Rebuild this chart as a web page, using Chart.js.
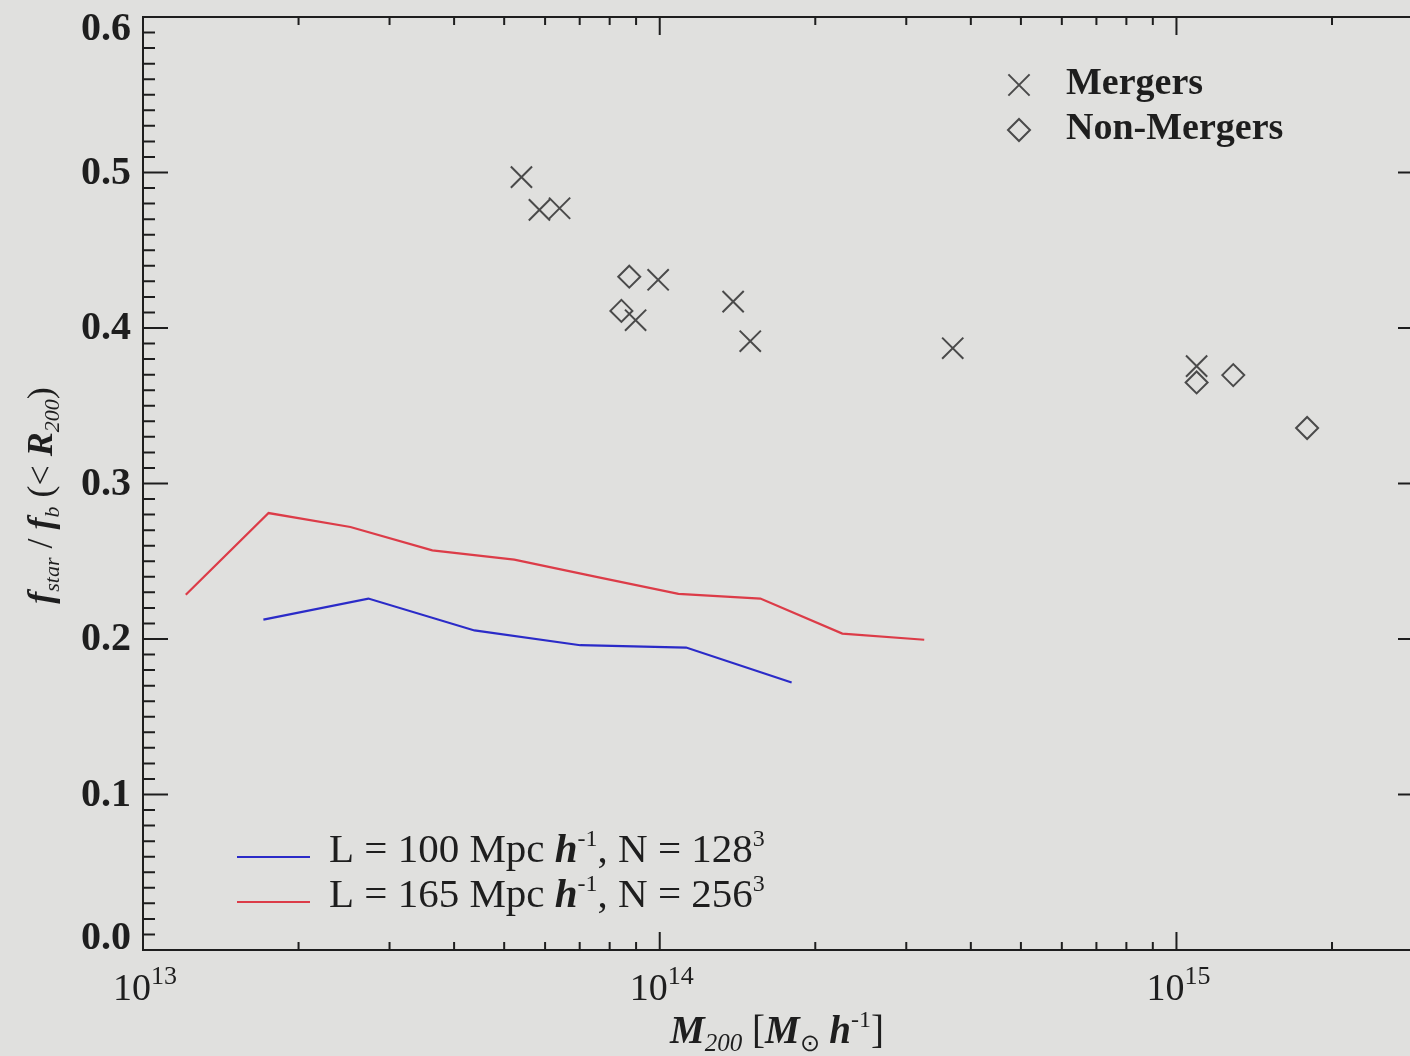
<!DOCTYPE html>
<html>
<head>
<meta charset="utf-8">
<title>Stellar fraction vs halo mass</title>
<script src="https://cdn.jsdelivr.net/npm/chart.js@4.4.1/dist/chart.umd.min.js"></script>
<style>
  html, body { margin: 0; padding: 0; background: #e0e0de; overflow: hidden; }
  #wrap { width: 1440px; height: 1056px; }
</style>
</head>
<body>
<div id="wrap"><canvas id="c" width="1440" height="1056"></canvas></div>
<script>
// binned mean f_star/f_b for the two simulation boxes
const massL100 = [1.71e13, 2.73e13, 4.38e13, 7.02e13, 1.125e14, 1.80e14];
const fracL100 = [0.2125, 0.226, 0.2055, 0.196, 0.1945, 0.172];
const massL165 = [1.21e13, 1.75e13, 2.52e13, 3.63e13, 5.23e13, 7.54e13, 1.087e14, 1.566e14, 2.256e14, 3.25e14];
const fracL165 = [0.2285, 0.281, 0.272, 0.257, 0.251, 0.240, 0.229, 0.226, 0.2035, 0.1995];

// individual clusters
const mergerMass = [5.40e13, 5.85e13, 6.40e13, 9.93e13, 8.98e13, 1.387e14, 1.497e14, 3.69e14, 1.094e15];
const mergerFrac = [0.497, 0.476, 0.477, 0.431, 0.405, 0.417, 0.3915, 0.387, 0.3755];
const nonMergerMass = [8.73e13, 8.43e13, 1.094e15, 1.288e15, 1.79e15];
const nonMergerFrac = [0.433, 0.411, 0.365, 0.3697, 0.3357];

// axes
const xMin = 1e13, xMax = 3e15;
const xTickValues = [1e13, 1e14, 1e15];
const xTickExps = ["13", "14", "15"];
const yTickValues = [0, 0.1, 0.2, 0.3, 0.4, 0.5, 0.6];
const yTickLabels = ["0.0", "0.1", "0.2", "0.3", "0.4", "0.5", "0.6"];

const SERIF = '"Liberation Serif", "Times New Roman", serif';
const INK = "#1e1e1e";
const MARK = "#4a4a4a";
const BLUE = "#2b2bc8";
const RED = "#dc3c48";

function pts(xs, ys) {
    return xs.map((x, i) => ({ x: x, y: ys[i] }));
}

// draws a run of text pieces (for sub/superscripts); align = left|center|right
function drawRuns(ctx, runs, x, y, align) {
    let w = 0;
    runs.forEach(r => { ctx.font = r.f; w += ctx.measureText(r.t).width; });
    let cx = align === "center" ? x - w / 2 : align === "right" ? x - w : x;
    ctx.textAlign = "left";
    ctx.textBaseline = "alphabetic";
    runs.forEach(r => {
        ctx.font = r.f;
        ctx.fillText(r.t, cx, y + (r.dy || 0));
        cx += ctx.measureText(r.t).width;
    });
}

const frame = {
    id: "frame",
    afterDraw(chart) {
        const ctx = chart.ctx;
        const a = chart.chartArea;
        const xs = chart.scales.x, ys = chart.scales.y;
        ctx.save();
        ctx.strokeStyle = INK;
        ctx.fillStyle = INK;
        ctx.lineWidth = 2;
        ctx.strokeRect(a.left, a.top, a.right - a.left, a.bottom - a.top);

        ctx.beginPath();
        // x ticks, bottom and top, pointing inward
        for (let d = 13; d <= 15; d++) {
            for (let m = 1; m <= 9; m++) {
                const v = m * Math.pow(10, d);
                if (v < xMin || v > xMax) continue;
                const px = xs.getPixelForValue(v);
                const len = m === 1 ? 18 : 8;
                ctx.moveTo(px, a.bottom); ctx.lineTo(px, a.bottom - len);
                ctx.moveTo(px, a.top); ctx.lineTo(px, a.top + len);
            }
        }
        // y ticks, left and right
        for (let k = 0; k <= 60; k++) {
            const py = ys.getPixelForValue(k / 100);
            const len = k % 10 === 0 ? 25 : 12;
            ctx.moveTo(a.left, py); ctx.lineTo(a.left + len, py);
            ctx.moveTo(a.right, py); ctx.lineTo(a.right - len, py);
        }
        ctx.stroke();

        // y tick labels, kept inside the axis span at the ends
        ctx.font = "bold 40px " + SERIF;
        ctx.textAlign = "right";
        ctx.textBaseline = "middle";
        yTickValues.forEach((v, i) => {
            let py = ys.getPixelForValue(v);
            py = Math.min(Math.max(py, a.top + 12), a.bottom - 12);
            ctx.fillText(yTickLabels[i], a.left - 12, py + 1);
        });

        // x tick labels 10^n
        xTickValues.forEach((v, i) => {
            const px = xs.getPixelForValue(v);
            drawRuns(ctx, [
                { t: "10", f: "38px " + SERIF },
                { t: xTickExps[i], f: "26px " + SERIF, dy: -16 }
            ], px + 2, a.bottom + 50, "center");
        });

        // axis titles
        drawRuns(ctx, [
            { t: "M", f: "italic bold 39px " + SERIF },
            { t: "200", f: "italic 25px " + SERIF, dy: 8 },
            { t: " [", f: "39px " + SERIF },
            { t: "M", f: "italic bold 39px " + SERIF },
            { t: "\u2299", f: "24px " + SERIF, dy: 8 },
            { t: " h", f: "italic bold 39px " + SERIF },
            { t: "-1", f: "24px " + SERIF, dy: -16 },
            { t: "]", f: "39px " + SERIF }
        ], (a.left + a.right) / 2 - 6, a.bottom + 93, "center");

        ctx.save();
        ctx.translate(52, (a.top + a.bottom) / 2 + 12);
        ctx.rotate(-Math.PI / 2);
        drawRuns(ctx, [
            { t: "f", f: "italic bold 36px " + SERIF },
            { t: "star", f: "italic 22px " + SERIF, dy: 7 },
            { t: " / ", f: "36px " + SERIF },
            { t: "f", f: "italic bold 36px " + SERIF },
            { t: "b", f: "italic 22px " + SERIF, dy: 7 },
            { t: " (< ", f: "36px " + SERIF },
            { t: "R", f: "italic bold 36px " + SERIF },
            { t: "200", f: "italic 22px " + SERIF, dy: 7 },
            { t: ")", f: "36px " + SERIF }
        ], 0, 0, "center");
        ctx.restore();

        // symbol legend, top right
        const ds = chart.data.datasets;
        const symRows = [[0, 85, "Mergers"], [1, 130, "Non-Mergers"]];
        symRows.forEach(([di, y, label]) => {
            const d = ds[di];
            ctx.strokeStyle = d.borderColor;
            ctx.fillStyle = "rgba(0,0,0,0)";
            ctx.lineWidth = d.borderWidth;
            Chart.helpers.drawPoint(ctx, {
                pointStyle: d.pointStyle, radius: d.pointRadius, rotation: 0, borderWidth: d.borderWidth
            }, 1019, y);
            ctx.fillStyle = INK;
            ctx.font = "bold 38px " + SERIF;
            ctx.textAlign = "left";
            ctx.textBaseline = "alphabetic";
            ctx.fillText(label, 1066, y + 9);
        });

        // line legend, bottom left
        const lineRows = [
            [2, 857, "100", "128"],
            [3, 902, "165", "256"]
        ];
        lineRows.forEach(([di, y, box, n]) => {
            ctx.strokeStyle = ds[di].borderColor;
            ctx.lineWidth = 2;
            ctx.beginPath();
            ctx.moveTo(237, y); ctx.lineTo(310, y);
            ctx.stroke();
            ctx.fillStyle = INK;
            drawRuns(ctx, [
                { t: "L = " + box + " Mpc ", f: "41px " + SERIF },
                { t: "h", f: "italic bold 41px " + SERIF },
                { t: "-1", f: "24px " + SERIF, dy: -16 },
                { t: ", N = " + n, f: "41px " + SERIF },
                { t: "3", f: "24px " + SERIF, dy: -16 }
            ], 329, y + 5, "left");
        });
        ctx.restore();
    }
};

new Chart(document.getElementById("c"), {
    type: "scatter",
    data: {
        datasets: [
            {
                label: "Mergers",
                data: pts(mergerMass, mergerFrac),
                pointStyle: "crossRot",
                pointRadius: 15,
                borderColor: MARK,
                borderWidth: 2,
                backgroundColor: "transparent"
            },
            {
                label: "Non-Mergers",
                data: pts(nonMergerMass, nonMergerFrac),
                pointStyle: "rectRot",
                pointRadius: 11,
                borderColor: MARK,
                borderWidth: 2,
                backgroundColor: "transparent"
            },
            {
                label: "L = 100 Mpc/h, N = 128^3",
                data: pts(massL100, fracL100),
                showLine: true,
                pointRadius: 0,
                borderColor: BLUE,
                borderWidth: 2.2
            },
            {
                label: "L = 165 Mpc/h, N = 256^3",
                data: pts(massL165, fracL165),
                showLine: true,
                pointRadius: 0,
                borderColor: RED,
                borderWidth: 2.2
            }
        ]
    },
    options: {
        responsive: false,
        animation: false,
        devicePixelRatio: 1,
        layout: { padding: { left: 143, right: 15, top: 15, bottom: 106 } },
        plugins: {
            legend: { display: false },
            tooltip: { enabled: false }
        },
        scales: {
            x: { type: "logarithmic", min: xMin, max: xMax, display: false },
            y: { type: "linear", min: 0, max: 0.6, display: false }
        }
    },
    plugins: [frame]
});
</script>
</body>
</html>
